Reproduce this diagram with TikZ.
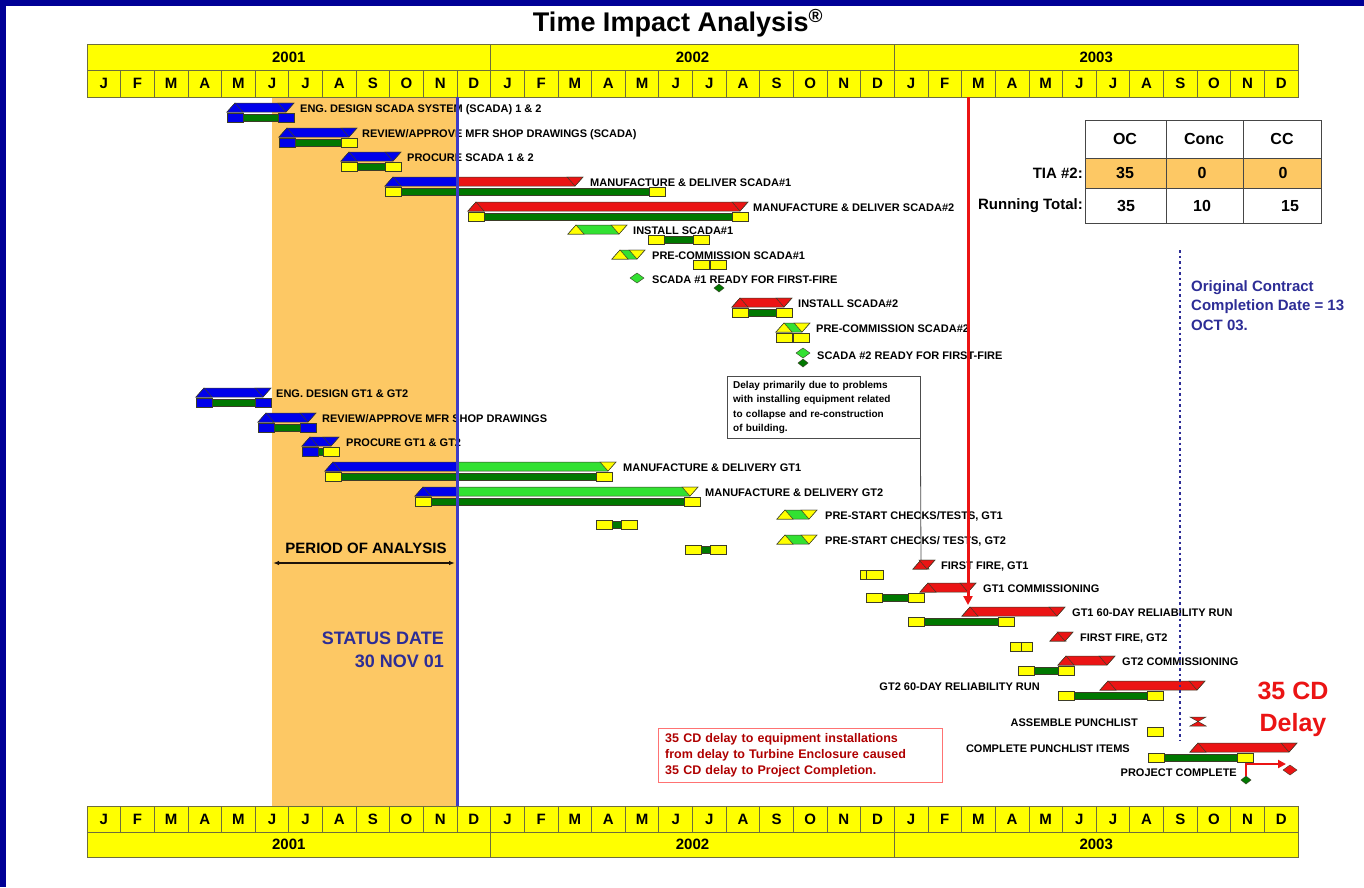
\documentclass[tikz,border=0pt]{standalone}
\usepackage{fontspec}
\setmainfont{Liberation Sans}
\usetikzlibrary{arrows.meta}

\definecolor{framenavy}{RGB}{0,0,150}
\definecolor{hyellow}{RGB}{255,255,0}
\definecolor{hline}{RGB}{110,110,60}
\definecolor{poaorange}{RGB}{253,200,100}
\definecolor{bblue}{RGB}{0,0,235}
\definecolor{bred}{RGB}{235,20,20}
\definecolor{lgreen}{RGB}{50,225,50}
\definecolor{dkgreen}{RGB}{0,120,0}
\definecolor{byellow}{RGB}{255,255,0}
\definecolor{edge}{RGB}{60,60,40}
\definecolor{statblue}{RGB}{60,60,200}
\definecolor{txtblue}{RGB}{45,45,150}
\definecolor{dkred}{RGB}{175,0,0}
\definecolor{tline}{RGB}{70,70,70}

\tikzset{
  hdr/.style={fill=hyellow,draw=hline,line width=0.8pt},
  hdrtxt/.style={font=\bfseries\fontsize{15}{15}\selectfont,inner sep=0pt},
  lbl/.style={font=\bfseries\fontsize{11}{11}\selectfont,inner sep=0pt,anchor=base west},
  lblr/.style={lbl,anchor=base east},
  tblcell/.style={draw=tline,line width=1pt},
  tbltxt/.style={font=\bfseries\fontsize{16}{16}\selectfont,inner sep=0pt},
  notebox/.style={anchor=north west,draw=gray!60!black,fill=white,align=left,
    text width=181pt,inner xsep=6pt,inner ysep=5pt,
    font=\bfseries\fontsize{10}{14.3}\selectfont},
  rednote/.style={anchor=north west,draw=red!55,fill=white,align=left,text=dkred,
    text width=270pt,inner xsep=7pt,inner ysep=5pt,
    font=\bfseries\fontsize{12.5}{16.3}\selectfont},
  statusline/.style={statblue,line width=3pt},
  delayline/.style={bred,line width=3pt,-{Triangle[length=9pt,width=9pt]}},
  ccline/.style={txtblue,line width=2.5pt,dash pattern=on 2.5pt off 3pt},
}

% upper bar: x1, x2, row, body, start mark, end mark
\newcommand{\ubar}[6]{%
  \filldraw[fill=#4,draw=edge,line width=0.5pt] (#1,#3+4) -- (#1+8,#3-5) -- (#2,#3-5) -- (#2-8,#3+4) -- cycle;
  \filldraw[fill=#5,draw=edge,line width=0.5pt] (#1,#3+4) -- (#1+8,#3-5) -- (#1+16,#3+4) -- cycle;
  \filldraw[fill=#6,draw=edge,line width=0.5pt] (#2,#3-5) -- (#2-16,#3-5) -- (#2-8,#3+4) -- cycle;}
% upper bar, blue up to the status date: x1, xm, x2, row, rest, end mark
\newcommand{\usplit}[6]{%
  \filldraw[fill=bblue,draw=edge,line width=0.5pt] (#1,#4+4) -- (#1+8,#4-5) -- (#2,#4-5) -- (#2,#4+4) -- cycle;
  \filldraw[fill=#5,draw=edge,line width=0.5pt] (#2,#4+4) -- (#2,#4-5) -- (#3,#4-5) -- (#3-8,#4+4) -- cycle;
  \filldraw[fill=bblue,draw=edge,line width=0.5pt] (#1,#4+4) -- (#1+8,#4-5) -- (#1+16,#4+4) -- cycle;
  \filldraw[fill=#6,draw=edge,line width=0.5pt] (#3,#4-5) -- (#3-16,#4-5) -- (#3-8,#4+4) -- cycle;}
% baseline bar: x1, x2, row, left box, right box
\newcommand{\base}[5]{%
  \filldraw[fill=dkgreen,draw=edge,line width=0.5pt] (#1,#3+6) rectangle (#2,#3+13);
  \filldraw[fill=#4,draw=edge,line width=0.5pt] (#1,#3+5) rectangle ++(16,9);
  \filldraw[fill=#5,draw=edge,line width=0.5pt] (#2,#3+5) rectangle ++(-16,9);}
\newcommand{\ybox}[3][16]{%
  \filldraw[fill=byellow,draw=edge,line width=0.5pt] (#2,#3+5) rectangle ++(#1,9);}
% milestone: x, y, colour, half width, half height
\newcommand{\mile}[5]{%
  \filldraw[fill=#3,draw=edge,line width=0.4pt] (#1-#4,#2) -- (#1,#2-#5) -- (#1+#4,#2) -- (#1,#2+#5) -- cycle;}

\begin{document}
\begin{tikzpicture}[x=1pt,y=-1pt]
  \def\xo{87}
  \def\mw{33.639}
  \fill[white] (0,0) rectangle (1364,887);
  \useasboundingbox (0,0) rectangle (1364,887);
  \fill[framenavy] (0,0) rectangle (1364,6);
  \fill[framenavy] (0,0) rectangle (6,887);

  \node[font=\bfseries\fontsize{27}{27}\selectfont,inner sep=0pt] (title) at (678,23)
    {Time Impact Analysis\textsuperscript{\textregistered}};

  % period of analysis
  \fill[poaorange] (272,97) rectangle (457,806);

  % calendar, top and bottom
  \foreach \yr [count=\k from 0] in {2001,2002,2003}{
    \draw[hdr] ({\xo+12*\k*\mw},44) rectangle ++({12*\mw},26);
    \node[hdrtxt] (ytop\k) at ({\xo+(12*\k+6)*\mw},57) {\yr};
    \draw[hdr] ({\xo+12*\k*\mw},832) rectangle ++({12*\mw},25);
    \node[hdrtxt] (ybot\k) at ({\xo+(12*\k+6)*\mw},844.5) {\yr};
  }
  \foreach \m [count=\i from 0] in {J,F,M,A,M,J,J,A,S,O,N,D,J,F,M,A,M,J,J,A,S,O,N,D,J,F,M,A,M,J,J,A,S,O,N,D}{
    \draw[hdr] ({\xo+\i*\mw},70) rectangle ++(\mw,27);
    \node[hdrtxt] (mtop\i) at ({\xo+(\i+0.5)*\mw},83.5) {\m};
    \draw[hdr] ({\xo+\i*\mw},806) rectangle ++(\mw,26);
    \node[hdrtxt] (mbot\i) at ({\xo+(\i+0.5)*\mw},819) {\m};
  }

  % SCADA activities
  \ubar{227}{294}{108}{bblue}{bblue}{bblue}  \base{227}{294}{108}{bblue}{bblue}
  \ubar{279}{357}{133}{bblue}{bblue}{bblue}  \base{279}{357}{133}{bblue}{byellow}
  \ubar{341}{401}{157}{bblue}{bblue}{bblue}  \base{341}{401}{157}{byellow}{byellow}
  \usplit{385}{457}{583}{182}{bred}{bred}    \base{385}{665}{182}{byellow}{byellow}
  \ubar{468}{748}{207}{bred}{bred}{bred}     \base{468}{748}{207}{byellow}{byellow}
  \ubar{568}{627}{230}{lgreen}{byellow}{byellow} \base{648}{709}{230}{byellow}{byellow}
  \ubar{612}{645}{255}{lgreen}{byellow}{byellow} \ybox{693}{255} \ybox{710}{255}
  \mile{637}{278}{lgreen}{7}{5} \mile{719}{288}{dkgreen}{5}{4}
  \ubar{732}{792}{303}{bred}{bred}{bred}     \base{732}{792}{303}{byellow}{byellow}
  \ubar{776}{810}{328}{lgreen}{byellow}{byellow} \ybox{776}{328} \ybox{793}{328}
  \mile{803}{353}{lgreen}{7}{5} \mile{803}{363}{dkgreen}{5}{4}

  % GT activities
  \ubar{196}{271}{393}{bblue}{bblue}{bblue}  \base{196}{271}{393}{bblue}{bblue}
  \ubar{258}{316}{418}{bblue}{bblue}{bblue}  \base{258}{316}{418}{bblue}{bblue}
  \ubar{302}{339}{442}{bblue}{bblue}{bblue}  \base{302}{339}{442}{bblue}{byellow}
  \usplit{325}{457}{616}{467}{lgreen}{byellow} \base{325}{612}{467}{byellow}{byellow}
  \usplit{415}{457}{698}{492}{lgreen}{byellow} \base{415}{700}{492}{byellow}{byellow}
  \ubar{777}{817}{515}{lgreen}{byellow}{byellow} \base{596}{637}{515}{byellow}{byellow}
  \ubar{777}{817}{540}{lgreen}{byellow}{byellow} \base{685}{726}{540}{byellow}{byellow}
  \ubar{913}{935}{565}{bred}{bred}{bred}     \ybox[6]{860}{565} \ybox[17]{866}{565}
  \ubar{920}{976}{588}{bred}{bred}{bred}     \base{866}{924}{588}{byellow}{byellow}
  \ubar{962}{1065}{612}{bred}{bred}{bred}    \base{908}{1014}{612}{byellow}{byellow}
  \ubar{1050}{1073}{637}{bred}{bred}{bred}   \ybox[11]{1010}{637} \ybox[11]{1021}{637}
  \ubar{1058}{1115}{661}{bred}{bred}{bred}   \base{1018}{1074}{661}{byellow}{byellow}
  \ubar{1100}{1205}{686}{bred}{bred}{bred}   \base{1058}{1163}{686}{byellow}{byellow}
  \filldraw[fill=bred,draw=edge,line width=0.5pt] (1190,717) -- (1206,717) -- (1190,726) -- (1206,726) -- cycle;
  \ybox{1147}{722}
  \ubar{1190}{1297}{748}{bred}{bred}{bred}   \base{1148}{1253}{748}{byellow}{byellow}
  \mile{1246}{780}{dkgreen}{5}{4}
  \coordinate (pcold) at (1246,776);
  \coordinate (pcnew) at (1290,770);
  \draw[bred,line width=2pt,-{Triangle[length=8pt,width=8pt]}] (pcold) |- ([xshift=-4pt,yshift=6pt]pcnew);
  \mile{1290}{770}{bred}{7}{5}

  % activity names
  \node[lbl] (l1) at (300,112) {ENG. DESIGN SCADA SYSTEM (SCADA) 1 \& 2};
  \node[lbl] (l2) at (362,137) {REVIEW/APPROVE MFR SHOP DRAWINGS (SCADA)};
  \node[lbl] (l3) at (407,161) {PROCURE SCADA 1 \& 2};
  \node[lbl] (l4) at (590,186) {MANUFACTURE \& DELIVER SCADA\#1};
  \node[lbl] (l5) at (753,211) {MANUFACTURE \& DELIVER SCADA\#2};
  \node[lbl] (l6) at (633,234) {INSTALL SCADA\#1};
  \node[lbl] (l7) at (652,259) {PRE-COMMISSION SCADA\#1};
  \node[lbl] (l8) at (652,283) {SCADA \#1 READY FOR FIRST-FIRE};
  \node[lbl] (l9) at (798,307) {INSTALL SCADA\#2};
  \node[lbl] (l10) at (816,332) {PRE-COMMISSION SCADA\#2};
  \node[lbl] (l11) at (817,359) {SCADA \#2 READY FOR FIRST-FIRE};
  \node[lbl] (l12) at (276,397) {ENG. DESIGN GT1 \& GT2};
  \node[lbl] (l13) at (322,422) {REVIEW/APPROVE MFR SHOP DRAWINGS};
  \node[lbl] (l14) at (346,446) {PROCURE GT1 \& GT2};
  \node[lbl] (l15) at (623,471) {MANUFACTURE \& DELIVERY GT1};
  \node[lbl] (l16) at (705,496) {MANUFACTURE \& DELIVERY GT2};
  \node[lbl] (l17) at (825,519) {PRE-START CHECKS/TESTS, GT1};
  \node[lbl] (l18) at (825,544) {PRE-START CHECKS/ TESTS, GT2};
  \node[lbl] (l19) at (941,569) {FIRST FIRE, GT1};
  \node[lbl] (l20) at (983,592) {GT1 COMMISSIONING};
  \node[lbl] (l21) at (1072,616) {GT1 60-DAY RELIABILITY RUN};
  \node[lbl] (l22) at (1080,641) {FIRST FIRE, GT2};
  \node[lbl] (l23) at (1122,665) {GT2 COMMISSIONING};
  \node[lblr] (l24) at (1040,690) {GT2 60-DAY RELIABILITY RUN};
  \node[lblr] (l25) at (1138,726) {ASSEMBLE PUNCHLIST};
  \node[lblr] (l26) at (1130,752) {COMPLETE PUNCHLIST ITEMS};
  \node[lblr] (l27) at (1237,776) {PROJECT COMPLETE};

  % notes
  \node[notebox] (why) at (727,376) {Delay primarily due to problems\\with installing equipment related\\to collapse and re-construction\\of building.};
  \coordinate (ffgt) at (921,560);
  \draw[gray!60!black,line width=0.8pt] (why.south east) -- (ffgt);
  \node[rednote] (cause) at (658,728) {35 CD delay to equipment installations\\from delay to Turbine Enclosure caused\\35 CD delay to Project Completion.};
  \node[font=\bfseries\fontsize{25}{32}\selectfont,text=bred,align=center,inner sep=0pt] (delay) at (1293,709) {35 CD\\Delay};

  \node[font=\bfseries\fontsize{15}{15}\selectfont,inner sep=0pt] (poa) at (366,548) {PERIOD OF ANALYSIS};
  \coordinate (poaL) at (273,563);
  \coordinate (poaR) at (455,563);
  \draw[black!85!brown,line width=1.3pt,{Latex[length=6pt]}-{Latex[length=6pt]}] (poaL) -- (poaR);
  \node[font=\bfseries\fontsize{18}{23}\selectfont,text=txtblue,align=right,inner sep=0pt,anchor=east] (status) at (444,650) {STATUS DATE\\30 NOV 01};

  % TIA table
  \fill[poaorange] (1085,158) rectangle (1321,188);
  \draw[tblcell] (1085,120) rectangle (1321,223);
  \draw[tblcell] (1166,120) -- (1166,223);
  \draw[tblcell] (1243,120) -- (1243,223);
  \draw[tblcell] (1085,158) -- (1321,158);
  \draw[tblcell] (1085,188) -- (1321,188);
  \node[tbltxt] (hOC) at (1125,139) {OC};
  \node[tbltxt] (hConc) at (1204,139) {Conc};
  \node[tbltxt] (hCC) at (1282,139) {CC};
  \node[tbltxt] (tOC) at (1125,173) {35};
  \node[tbltxt] (tConc) at (1202,173) {0};
  \node[tbltxt] (tCC) at (1283,173) {0};
  \node[tbltxt] (rOC) at (1126,206) {35};
  \node[tbltxt] (rConc) at (1202,206) {10};
  \node[tbltxt] (rCC) at (1290,206) {15};
  \node[font=\bfseries\fontsize{15}{15}\selectfont,inner sep=0pt,anchor=east] (tia) at (1083,173) {TIA \#2:};
  \node[font=\bfseries\fontsize{15}{15}\selectfont,inner sep=0pt,anchor=east] (run) at (1083,206) {Running Total:};

  \node[font=\bfseries\fontsize{15}{19.5}\selectfont,text=txtblue,align=left,inner sep=0pt,anchor=north west] (occ) at (1191,280) {Original Contract\\Completion Date = 13\\OCT 03.};

  % status, delay and contract dates
  \draw[statusline] (457,97) -- (457,806);
  \draw[delayline] (968,97) -- (968,605);
  \draw[ccline] (1180,250) -- (1180,740);
\end{tikzpicture}
\end{document}
